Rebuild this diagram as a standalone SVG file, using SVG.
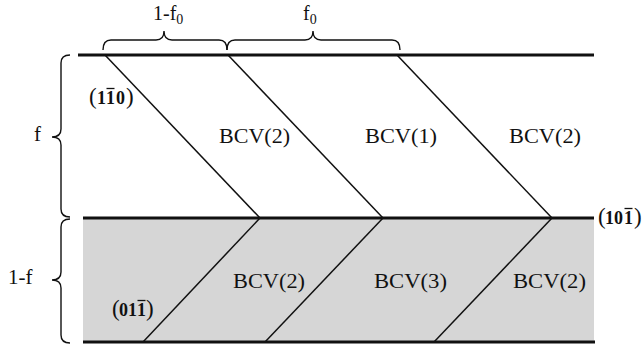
<svg xmlns="http://www.w3.org/2000/svg" width="643" height="351" viewBox="0 0 643 351">
<style>
.t{font-family:"Liberation Serif","Times New Roman",serif;fill:#111}
.lbl{font-size:20px}
.mi{font-size:18px;font-weight:bold}
.par{font-size:23px;font-weight:normal}
.thick{stroke:#111;stroke-width:3;fill:none}
.thin{stroke:#111;stroke-width:1.5;fill:none}
.brace{stroke:#111;stroke-width:1.4;fill:none}
.bar{stroke:#111;stroke-width:1.3}
</style>
<rect width="643" height="351" fill="#fff"/>
<g id="shaded-layer"><rect x="83" y="218" width="511" height="124" fill="#d6d6d6"/></g>
<g id="connectors">
<line class="thick" x1="78" y1="55" x2="594" y2="55"/>
<line class="thick" x1="83" y1="218" x2="594" y2="218"/>
<line class="thick" x1="83" y1="342" x2="595" y2="342"/>
<line class="thin" x1="105" y1="55" x2="260" y2="218"/>
<line class="thin" x1="228" y1="55" x2="383" y2="218"/>
<line class="thin" x1="397" y1="55" x2="552" y2="218"/>
<line class="thin" x1="260" y1="218" x2="143" y2="342"/>
<line class="thin" x1="383" y1="218" x2="265" y2="342"/>
<line class="thin" x1="552" y1="218" x2="434" y2="342"/>
</g>
<g id="brace-1-f0">
<path class="brace" d="M103,50 Q103,40 111,40 L156,40 Q164,40 164,31 Q164,40 172,40 L219,40 Q227,40 227,50"/>
<text class="t" x="153" y="20" font-size="20">1-f<tspan font-size="14" dy="4">0</tspan></text>
</g>
<g id="brace-f0">
<path class="brace" d="M227,50 Q227,40 235,40 L305,40 Q313,40 313,31 Q313,40 321,40 L392,40 Q400,40 400,50"/>
<text class="t" x="303" y="20" font-size="20">f<tspan font-size="14" dy="4">0</tspan></text>
</g>
<g id="brace-f">
<path class="brace" d="M70,55 Q61,55 61,63 L61,129 Q61,137 52,137 Q61,137 61,145 L61,209 Q61,217 70,217"/>
<text class="t" x="34" y="141" font-size="21">f</text>
</g>
<g id="brace-1-f">
<path class="brace" d="M70,219 Q61,219 61,227 L61,272 Q61,280 52,280 Q61,280 61,288 L61,335 Q61,343 70,343"/>
<text class="t" x="8" y="284" font-size="21">1-f</text>
</g>
<g id="plane-1-10">
<text class="t mi" x="89" y="104"><tspan class="par">(</tspan><tspan x="97">1</tspan><tspan x="106">1</tspan><tspan x="116">0</tspan><tspan class="par" x="126">)</tspan></text>
<line class="bar" x1="106.5" y1="88.5" x2="114.5" y2="88.5"/>
</g>
<g id="plane-01-1">
<text class="t mi" x="112" y="316"><tspan class="par">(</tspan><tspan x="119">0</tspan><tspan x="128">1</tspan><tspan x="137">1</tspan><tspan class="par" x="146">)</tspan></text>
<line class="bar" x1="137.5" y1="300.5" x2="145.5" y2="300.5"/>
</g>
<g id="plane-10-1">
<text class="t mi" x="598" y="224"><tspan class="par">(</tspan><tspan x="605">1</tspan><tspan x="614">0</tspan><tspan x="624">1</tspan><tspan class="par" x="634">)</tspan></text>
<line class="bar" x1="624.5" y1="208.5" x2="632.5" y2="208.5"/>
</g>
<g id="bcv-top-1"><text class="t lbl" x="219" y="143" textLength="71" lengthAdjust="spacingAndGlyphs">BCV(2)</text></g>
<g id="bcv-top-2"><text class="t lbl" x="365" y="143" textLength="72" lengthAdjust="spacingAndGlyphs">BCV(1)</text></g>
<g id="bcv-top-3"><text class="t lbl" x="509" y="143" textLength="72" lengthAdjust="spacingAndGlyphs">BCV(2)</text></g>
<g id="bcv-bot-1"><text class="t lbl" x="233" y="288" textLength="72" lengthAdjust="spacingAndGlyphs">BCV(2)</text></g>
<g id="bcv-bot-2"><text class="t lbl" x="374" y="288" textLength="73" lengthAdjust="spacingAndGlyphs">BCV(3)</text></g>
<g id="bcv-bot-3"><text class="t lbl" x="513" y="288" textLength="73" lengthAdjust="spacingAndGlyphs">BCV(2)</text></g>
</svg>
